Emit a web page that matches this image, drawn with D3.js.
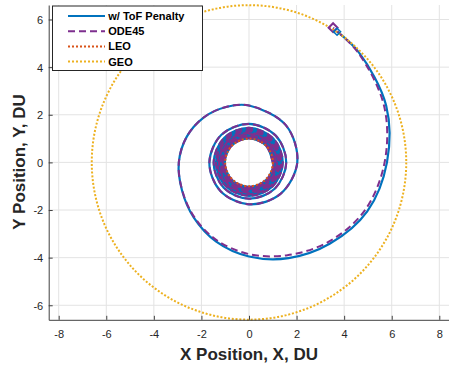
<!DOCTYPE html>
<html><head><meta charset="utf-8">
<script src="https://cdn.jsdelivr.net/npm/d3@7"></script>
<style>
body{margin:0;background:#fff}
svg{display:block}
text{font-family:"Liberation Sans",Arial,Helvetica,sans-serif}
</style>
</head><body>
<svg id="c" width="449" height="372"></svg>
<script>
// ---------- data ----------
const xTicks = [-8, -6, -4, -2, 0, 2, 4, 6, 8];
const yTicks = [-6, -4, -2, 0, 2, 4, 6];
const leoRadius = 1.0;
const geoRadius = 6.61;
const seriesNames = ["w/ ToF Penalty", "ODE45", "LEO", "GEO"];

// shared spiral (polar angle in degrees, unwrapped; radius in DU)
const sharedTheta = [
 -2880,-2835,-2790,-2745,-2700,-2655,-2610,-2565,
 -2520,-2475,-2430,-2385,-2340,-2295,-2250,-2205,
 -2160,-2115,-2070,-2025,-1980,-1935,-1890,-1845,
 -1800,-1755,-1710,-1665,-1620,-1575,-1530,-1485,
 -1440,-1395,-1350,-1305,-1260,-1215,-1170,-1125,
 -1080,-1035,-990,-945,-900,-855,-810,-765,
 -720,-675,-630,-585,-540,-495,-450,-405,
 -360,-315,-270,-225,-180,-135,-90,-45,
 0,45,90,135,180,225,270,315,
 360,405,450,495,540,585,630,675,
 720,765,810,832.5,855,877.5,900
];
const sharedR = [
 1.000,1.005,1.010,1.015,1.020,1.025,1.030,1.035,
 1.040,1.045,1.050,1.055,1.060,1.065,1.070,1.075,
 1.080,1.086,1.092,1.098,1.104,1.110,1.116,1.122,
 1.128,1.134,1.140,1.146,1.152,1.158,1.164,1.170,
 1.177,1.184,1.191,1.198,1.205,1.212,1.219,1.226,
 1.233,1.240,1.247,1.254,1.261,1.268,1.275,1.282,
 1.290,1.298,1.306,1.314,1.322,1.330,1.338,1.346,
 1.354,1.362,1.370,1.379,1.388,1.397,1.405,1.413,
 1.420,1.432,1.450,1.468,1.486,1.505,1.525,1.545,
 1.565,1.590,1.615,1.640,1.665,1.700,1.760,1.870,
 2.030,2.200,2.390,2.520,2.680,2.830,2.950
];
// final revolution of each solution
const tofTheta = [922.5, 945, 967.5, 990, 1012.5, 1035, 1057.5, 1080, 1102.5, 1125, 1136];
const tofR     = [3.05, 3.28, 3.60, 3.95, 4.35, 4.82, 5.38, 5.80, 6.24, 6.53, 6.62];
const odeTheta = [922.5, 945, 967.5, 990, 1012.5, 1035, 1057.5, 1080, 1102.5, 1125, 1138];
const odeR     = [3.04, 3.25, 3.54, 3.85, 4.22, 4.72, 5.27, 5.70, 6.15, 6.50, 6.67];

// ---------- chart ----------
const colors = {tof:"#0072BD", ode:"#7E2F8E", leo:"#D95319", geo:"#EDB120"};
const svg = d3.select("#c");
const x = d3.scaleLinear().domain([-8.42, 8.42]).range([48.7, 449.3]);
const y = d3.scaleLinear().domain([-6.61, 6.61]).range([319.8, 5]);
const [x0, x1] = x.range();
const [y0, y1] = y.range();

// grid
svg.append("g").selectAll("line").data(xTicks).join("line")
  .attr("x1", d => x(d)).attr("x2", d => x(d)).attr("y1", y0).attr("y2", y1)
  .attr("stroke", "#e3e3e3").attr("stroke-width", 1);
svg.append("g").selectAll("line").data(yTicks).join("line")
  .attr("y1", d => y(d)).attr("y2", d => y(d)).attr("x1", x0).attr("x2", x1)
  .attr("stroke", "#e3e3e3").attr("stroke-width", 1);

function toXY(thetas, rs) {
  return thetas.map((t, i) => {
    const a = t * Math.PI / 180;
    return [rs[i] * Math.cos(a), rs[i] * Math.sin(a)];
  });
}
const tofPts = toXY(sharedTheta.concat(tofTheta), sharedR.concat(tofR));
const odePts = toXY(sharedTheta.concat(odeTheta), sharedR.concat(odeR));

const line = d3.line().x(d => x(d[0])).y(d => y(d[1])).curve(d3.curveCatmullRom.alpha(0.5));

svg.append("path").attr("d", line(tofPts)).attr("fill", "none")
  .attr("stroke", colors.tof).attr("stroke-width", 2.2);
svg.append("path").attr("d", line(odePts)).attr("fill", "none")
  .attr("stroke", colors.ode).attr("stroke-width", 2).attr("stroke-dasharray", "7,4");

// LEO / GEO circles
svg.append("circle").attr("cx", x(0)).attr("cy", y(0)).attr("r", x(leoRadius) - x(0))
  .attr("fill", "none").attr("stroke", colors.leo).attr("stroke-width", 2).attr("stroke-dasharray", "2,2");
svg.append("circle").attr("cx", x(0)).attr("cy", y(0)).attr("r", x(geoRadius) - x(0))
  .attr("fill", "none").attr("stroke", colors.geo).attr("stroke-width", 2).attr("stroke-dasharray", "2,1.8");

// end markers (diamonds)
function diamond(p, s) {
  const cx = x(p[0]), cy = y(p[1]);
  return `M${cx},${cy - s}L${cx + s},${cy}L${cx},${cy + s}L${cx - s},${cy}Z`;
}
svg.append("path").attr("d", diamond(odePts[odePts.length - 1], 4.5))
  .attr("fill", "none").attr("stroke", colors.ode).attr("stroke-width", 2);
svg.append("path").attr("d", diamond(tofPts[tofPts.length - 1], 3.5))
  .attr("fill", "none").attr("stroke", colors.tof).attr("stroke-width", 1.6);

// axes
const axisColor = "#404040", textColor = "#262626";
const gx = svg.append("g").attr("transform", `translate(0,${y0})`)
  .call(d3.axisBottom(x).tickValues(xTicks).tickFormat(d => String(d)).tickSizeInner(-4).tickSizeOuter(0));
gx.selectAll("text").attr("y", 18).attr("dy", 0).attr("font-size", 11).attr("fill", textColor);
const gy = svg.append("g").attr("transform", `translate(${x0},0)`)
  .call(d3.axisLeft(y).tickValues(yTicks).tickFormat(d => String(d)).tickSizeInner(-4).tickSizeOuter(0));
gy.selectAll("text").attr("x", -5.5).attr("dy", "0.35em").attr("font-size", 11).attr("fill", textColor);
[gx, gy].forEach(g => {
  g.attr("font-family", null);
  g.select(".domain").attr("stroke", axisColor);
  g.selectAll(".tick line").attr("stroke", axisColor);
});

// axis labels
svg.append("text").attr("x", 249).attr("y", 359.5).attr("text-anchor", "middle")
  .attr("font-size", 17).attr("font-weight", "bold").attr("fill", textColor)
  .text("X Position, X, DU");
svg.append("text").attr("transform", "translate(24.5,162) rotate(-90)").attr("text-anchor", "middle")
  .attr("font-size", 17).attr("font-weight", "bold").attr("fill", textColor)
  .text("Y Position, Y, DU");

// legend
const lg = svg.append("g");
lg.append("rect").attr("x", 52.5).attr("y", 6).attr("width", 150).attr("height", 64.5)
  .attr("fill", "#fff").attr("stroke", "#262626").attr("stroke-width", 1);
const legendStyles = [
  {c: colors.tof, dash: null},
  {c: colors.ode, dash: "7,4"},
  {c: colors.leo, dash: "2,2"},
  {c: colors.geo, dash: "2,2"}
];
seriesNames.forEach((name, i) => {
  const cy = 16 + i * 15.2;
  lg.append("line").attr("x1", 68).attr("x2", 105).attr("y1", cy).attr("y2", cy)
    .attr("stroke", legendStyles[i].c).attr("stroke-width", 2)
    .attr("stroke-dasharray", legendStyles[i].dash);
  lg.append("text").attr("x", 108.3).attr("y", cy + 4).attr("font-size", 11)
    .attr("font-weight", "bold").attr("fill", "#000").text(name);
});
</script>
</body></html>
